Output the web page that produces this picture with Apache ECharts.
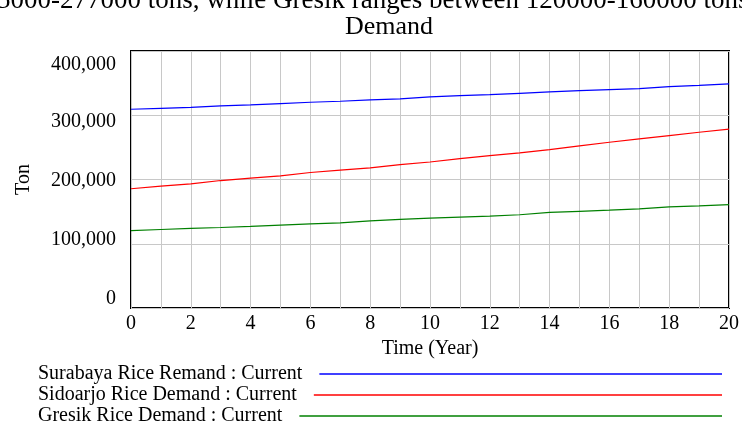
<!DOCTYPE html>
<html><head><meta charset="utf-8">
<script src="https://cdn.jsdelivr.net/npm/echarts@6/dist/echarts.min.js"></script>
<style>html,body{margin:0;padding:0;background:#fff}#c{width:742px;height:425px}</style>
</head><body><div id="c"></div>
<script>
// ---- data ----
const years = [0,1,2,3,4,5,6,7,8,9,10,11,12,13,14,15,16,17,18,19,20];
const surabaya = [309300,310800,312400,314600,316100,318200,320200,321800,323900,325500,328600,330600,332200,334200,336300,338200,339900,341500,344600,346600,348800];
const sidoarjo = [185600,189600,193300,198400,202000,205700,210900,214500,218100,223300,227200,232600,237300,241500,246600,252400,258000,263300,268400,273500,278500];
const gresik = [120500,122200,123800,125300,126900,128900,131000,132600,135700,137800,139800,141400,142900,145100,148700,150500,152200,154400,157500,159100,160800];
const yTickLabels = ['0','100,000','200,000','300,000','400,000'];
const xTickLabels = ['0','2','4','6','8','10','12','14','16','18','20'];
const seriesNames = ['Surabaya Rice Remand : Current','Sidoarjo Rice Demand : Current','Gresik Rice Demand : Current'];
const titleTop = '5000-277000 tons, while Gresik ranges between 120000-160000 tons';
const titleMain = 'Demand';
const xName = 'Time (Year)';
const yName = 'Ton';

// ---- chart ----
const FONT = "'Liberation Serif', 'Times New Roman', serif";
const colors = ['#0000ff', '#ff0000', '#008000'];
const values = [surabaya, sidoarjo, gresik];

// per-label vertical shift (px, + = down) mimicking the source layout
const labelShift = [-9.3, -4, 0.9, 6.6, 13.3];
const rich = {};
labelShift.forEach((d, i) => {
  rich['r' + i] = {
    fontFamily: FONT, fontSize: 20, color: '#000',
    padding: d >= 0 ? [2 * d, 0, 0, 0] : [0, 0, -2 * d, 0]
  };
});

// measure legend text so all legend lines end at the same x
const ctx = document.createElement('canvas').getContext('2d');
const LEG_FS = 20;
ctx.font = LEG_FS + "px 'Liberation Serif'";
const legLeft = 38, legLineEnd = 722, legGap = 17;
const legendRowsTop = [364, 385, 406];
const legends = seriesNames.map((n, i) => {
  const tw = ctx.measureText(n).width;
  return {
    data: [n], left: legLeft, top: legendRowsTop[i], align: 'right', padding: 0,
    icon: 'rect', itemWidth: Math.max(10, legLineEnd - legLeft - tw - legGap), itemHeight: 1.6,
    textStyle: { fontFamily: FONT, fontSize: LEG_FS, color: '#000', padding: [0, legGap - 5, 0, 0] },
    selectedMode: false
  };
});

const chart = echarts.init(document.getElementById('c'), null, { renderer: 'canvas' });
chart.setOption({
  animation: false,
  backgroundColor: '#fff',
  textStyle: { fontFamily: FONT },
  graphic: [
    { type: 'text', left: -3, top: -13, style: { text: titleTop, font: "27px 'Liberation Serif'", fill: '#000' } },
    { type: 'text', x: 389, y: 27, style: { text: titleMain, font: "26px 'Liberation Serif'", fill: '#000', align: 'center', verticalAlign: 'middle' } }
  ],
  legend: legends,
  grid: { left: 131, right: 11, top: 51, bottom: 117, show: true, borderColor: '#000', borderWidth: 2, containLabel: false },
  xAxis: {
    type: 'value', min: 0, max: 20, interval: 1,
    name: xName, nameLocation: 'middle', nameGap: 23,
    nameTextStyle: { fontFamily: FONT, fontSize: 20, color: '#000' },
    axisLine: { show: false }, axisTick: { show: false },
    axisLabel: {
      margin: 6, fontFamily: FONT, fontSize: 20, color: '#000',
      formatter: v => (v % 2 === 0 ? xTickLabels[v / 2] : '')
    },
    splitLine: { show: true, lineStyle: { color: '#c8c8c8', width: 1 } }
  },
  yAxis: {
    type: 'value', min: 0, max: 400000, interval: 100000,
    name: yName, nameLocation: 'middle', nameGap: 97, nameRotate: 90,
    nameTextStyle: { fontFamily: FONT, fontSize: 20, color: '#000' },
    axisLine: { show: false }, axisTick: { show: false },
    axisLabel: {
      margin: 15,
      formatter: v => { const i = Math.round(v / 100000); return '{r' + i + '|' + yTickLabels[i] + '}'; },
      rich: rich
    },
    splitLine: { show: true, lineStyle: { color: '#c8c8c8', width: 1 } }
  },
  series: values.map((arr, i) => ({
    name: seriesNames[i], type: 'line', showSymbol: false, symbol: 'none',
    data: years.map((y, k) => [y, arr[k]]),
    lineStyle: { color: colors[i], width: 1.2 }, itemStyle: { color: colors[i] },
    z: 3
  }))
});
</script></body></html>
